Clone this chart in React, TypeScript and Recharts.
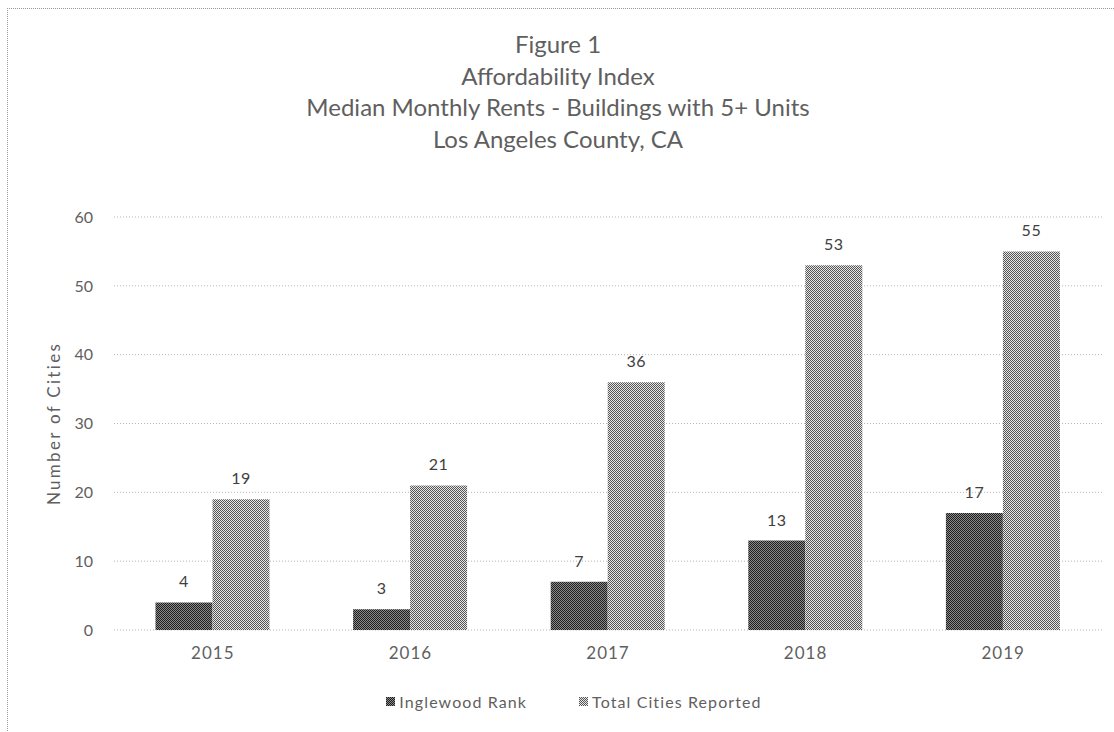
import { Bar, BarChart, CartesianGrid, LabelList, XAxis, YAxis } from "recharts"

const years = ["2015", "2016", "2017", "2018", "2019"]
const inglewoodRank = [4, 3, 7, 13, 17]
const totalCities = [19, 21, 36, 53, 55]
const yTicks = [0, 10, 20, 30, 40, 50, 60]
const titleLines = [
  "Figure 1",
  "Affordability Index",
  "Median Monthly Rents - Buildings with 5+ Units",
  "Los Angeles County, CA",
]

const data = years.map((year, i) => ({
  year,
  rank: inglewoodRank[i],
  total: totalCities[i],
}))

const font = "Lato, 'Open Sans', sans-serif"
const textColor = "#5f5f5f"

const LegendSwatch = ({ pattern }: { pattern: string }) => (
  <svg width={9} height={9} style={{ marginRight: 4 }}>
    <rect width={9} height={9} fill={`url(#${pattern})`} />
  </svg>
)

export default function App() {
  return (
    <div
      style={{
        position: "absolute",
        left: 0,
        top: 0,
        width: 1114,
        height: 732,
        overflow: "hidden",
        background: "#fff",
        fontFamily: font,
      }}
    >
      {/* dotted frame, only top and left edges show */}
      <div
        style={{
          position: "absolute",
          left: 7,
          top: 8,
          width: 1200,
          height: 800,
          borderLeft: "1px dotted #999",
          borderTop: "1px dotted #999",
        }}
      />

      <div
        style={{
          position: "absolute",
          left: 0,
          top: 28,
          width: 1116,
          textAlign: "center",
          color: textColor,
          fontSize: 24,
          lineHeight: "31.5px",
        }}
      >
        {titleLines.map((line) => (
          <div key={line}>{line}</div>
        ))}
      </div>

      <div style={{ position: "absolute", left: 0, top: 0 }}>
        <BarChart
          width={1114}
          height={732}
          data={data}
          margin={{ top: 217, right: 12, bottom: 72, left: 0 }}
          barCategoryGap="21%"
          barGap={0}
        >
          <defs>
            <pattern id="darkDots" width={2} height={2} patternUnits="userSpaceOnUse">
              <rect width={2} height={2} fill="#8a8a8a" />
              <rect width={1} height={1} fill="#1e1e1e" />
              <rect x={1} y={1} width={1} height={1} fill="#1e1e1e" />
            </pattern>
            <pattern id="lightDots" width={2} height={2} patternUnits="userSpaceOnUse">
              <rect width={2} height={2} fill="#e6e6e6" />
              <rect width={1} height={1} fill="#555" />
              <rect x={1} y={1} width={1} height={1} fill="#555" />
            </pattern>
          </defs>
          <CartesianGrid
            vertical={false}
            stroke="#b5b5b5"
            strokeDasharray="1 2"
          />
          <XAxis
            dataKey="year"
            axisLine={false}
            tickLine={false}
            tickSize={0}
            tickMargin={17}
            height={30}
            tick={{ fill: textColor, fontSize: 17, fontFamily: font, letterSpacing: 1 }}
          />
          <YAxis
            width={114}
            domain={[0, 60]}
            ticks={yTicks}
            axisLine={false}
            tickLine={false}
            tickSize={0}
            tickMargin={21}
            tick={{ fill: textColor, fontSize: 16, fontFamily: font }}
            label={{
              value: "Number of Cities",
              angle: -90,
              position: "center",
              dx: -3,
              fill: textColor,
              fontSize: 17,
              fontFamily: font,
              letterSpacing: 2.3,
            }}
          />
          <Bar dataKey="rank" name="Inglewood Rank" fill="url(#darkDots)" isAnimationActive={false}>
            <LabelList
              dataKey="rank"
              position="top"
              offset={15}
              fill="#404040"
              fontSize={16}
              fontFamily={font}
              letterSpacing={0.5}
            />
          </Bar>
          <Bar dataKey="total" name="Total Cities Reported" fill="url(#lightDots)" isAnimationActive={false}>
            <LabelList
              dataKey="total"
              position="top"
              offset={15}
              fill="#404040"
              fontSize={16}
              fontFamily={font}
              letterSpacing={0.5}
            />
          </Bar>
        </BarChart>
      </div>

      <div
        style={{
          position: "absolute",
          left: 0,
          top: 692,
          width: 1114,
          paddingLeft: 34,
          boxSizing: "border-box",
          display: "flex",
          justifyContent: "center",
          alignItems: "center",
          gap: 52,
          color: textColor,
          fontSize: 16,
          letterSpacing: 1.1,
        }}
      >
        <span style={{ display: "flex", alignItems: "center" }}>
          <LegendSwatch pattern="darkDots" />
          Inglewood Rank
        </span>
        <span style={{ display: "flex", alignItems: "center" }}>
          <LegendSwatch pattern="lightDots" />
          Total Cities Reported
        </span>
      </div>
    </div>
  )
}
